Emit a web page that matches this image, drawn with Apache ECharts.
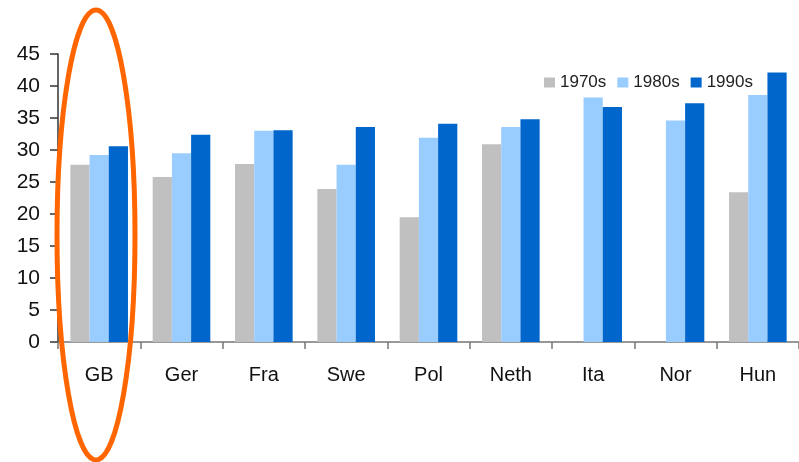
<!DOCTYPE html>
<html>
<head>
<meta charset="utf-8">
<script src="https://cdn.jsdelivr.net/npm/echarts@6/dist/echarts.min.js"></script>
<style>
  html, body { margin: 0; padding: 0; background: #fff; }
  #chart { width: 799px; height: 462px; }
</style>
</head>
<body>
<div id="chart"></div>
<script>
// data
var countries = ['GB', 'Ger', 'Fra', 'Swe', 'Pol', 'Neth', 'Ita', 'Nor', 'Hun'];
var seriesNames = ['1970s', '1980s', '1990s'];
var v1970s = [27.7, 25.8, 27.8, 23.9, 19.5, 30.9, null, null, 23.4];
var v1980s = [29.2, 29.5, 33.0, 27.7, 31.9, 33.6, 38.2, 34.6, 38.6];
var v1990s = [30.6, 32.4, 33.1, 33.6, 34.1, 34.8, 36.7, 37.3, 42.1];
var yTicks = [0, 5, 10, 15, 20, 25, 30, 35, 40, 45];

var colors = ['#C0C0C0', '#99CCFF', '#0066CC'];
var font = 'Liberation Sans, Arial, sans-serif';

var myChart = echarts.init(document.getElementById('chart'), null, { renderer: 'canvas' });

function bar(name, data, color) {
    return {
        name: name,
        type: 'bar',
        data: data,
        barGap: '0%',
        barCategoryGap: '30%',
        itemStyle: { color: color },
        animation: false
    };
}

var option = {
    backgroundColor: '#fff',
    animation: false,
    legend: {
        data: seriesNames,
        left: 544,
        top: 74,
        padding: 0,
        itemWidth: 11,
        itemHeight: 10,
        itemGap: 11,
        icon: 'rect',
        textStyle: { fontFamily: font, fontSize: 17, color: '#222' }
    },
    grid: {
        left: 58,
        top: 54,
        width: 754,
        height: 288,
        containLabel: false
    },
    xAxis: {
        type: 'category',
        data: countries,
        axisLine: { lineStyle: { color: '#777', width: 1.5 } },
        axisTick: { show: true, length: 7, lineStyle: { color: '#777', width: 1.5 } },
        axisLabel: { fontFamily: font, fontSize: 20, color: '#111', margin: 23 }
    },
    yAxis: {
        type: 'value',
        min: yTicks[0],
        max: yTicks[yTicks.length - 1],
        interval: 5,
        splitLine: { show: false },
        axisLine: { show: true, lineStyle: { color: '#333', width: 1.5 } },
        axisTick: { show: true, length: 8, lineStyle: { color: '#333', width: 1.5 } },
        axisLabel: { fontFamily: font, fontSize: 21, color: '#111', margin: 18 }
    },
    series: [
        bar(seriesNames[0], v1970s, colors[0]),
        bar(seriesNames[1], v1980s, colors[1]),
        bar(seriesNames[2], v1990s, colors[2])
    ],
    graphic: [
        {
            type: 'ellipse',
            shape: { cx: 96, cy: 235, rx: 39, ry: 225 },
            style: { fill: 'none', stroke: '#FF6600', lineWidth: 5 },
            z: 100
        }
    ]
};

myChart.setOption(option);
</script>
</body>
</html>
